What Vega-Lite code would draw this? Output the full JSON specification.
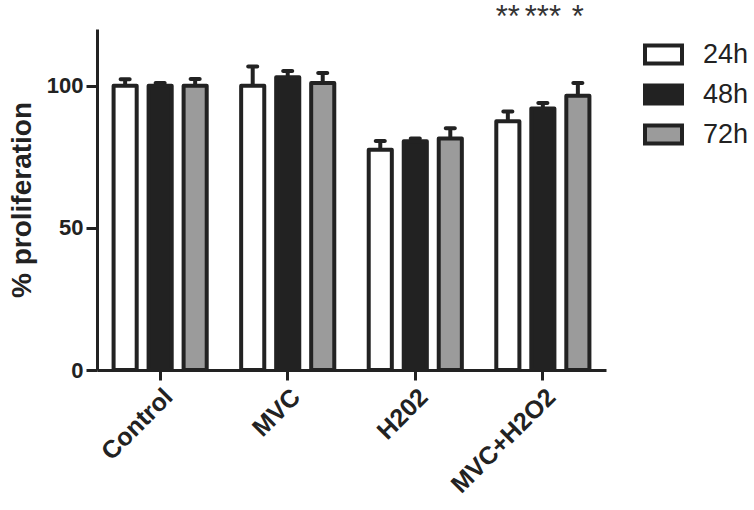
{
  "$schema": "https://vega.github.io/schema/vega-lite/v6.json",
  "autosize": "none",
  "width": 509,
  "height": 341,
  "padding": {"left": 97, "top": 29, "right": 148, "bottom": 140},
  "background": "white",
  "config": {
    "view": {"stroke": null},
    "font": "Liberation Sans",
    "axis": {
      "domainColor": "#222222",
      "domainWidth": 3,
      "tickColor": "#222222",
      "tickWidth": 3,
      "grid": false,
      "labelFont": "Liberation Sans",
      "labelFontWeight": "bold",
      "labelColor": "#222222",
      "titleFont": "Liberation Sans",
      "titleColor": "#222222"
    }
  },
  "datasets": {
    "bars": [
      {"group": "Control", "time": "24h", "value": 100, "upper": 102.3},
      {"group": "Control", "time": "48h", "value": 100, "upper": 101},
      {"group": "Control", "time": "72h", "value": 100, "upper": 102.4},
      {"group": "MVC", "time": "24h", "value": 100, "upper": 106.8},
      {"group": "MVC", "time": "48h", "value": 103, "upper": 105.2},
      {"group": "MVC", "time": "72h", "value": 101, "upper": 104.5},
      {"group": "H202", "time": "24h", "value": 77.5, "upper": 80.6},
      {"group": "H202", "time": "48h", "value": 80.5, "upper": 81.5},
      {"group": "H202", "time": "72h", "value": 81.5, "upper": 85.1},
      {"group": "MVC+H2O2", "time": "24h", "value": 87.5, "upper": 91},
      {"group": "MVC+H2O2", "time": "48h", "value": 92, "upper": 94},
      {"group": "MVC+H2O2", "time": "72h", "value": 96.5, "upper": 101}
    ],
    "stars": [
      {"group": "MVC+H2O2", "time": "24h", "y": 120.6, "label": "**"},
      {"group": "MVC+H2O2", "time": "48h", "y": 120.6, "label": "***"},
      {"group": "MVC+H2O2", "time": "72h", "y": 120.6, "label": "*"}
    ]
  },
  "encoding": {
    "x": {
      "field": "group",
      "type": "nominal",
      "sort": ["Control", "MVC", "H202", "MVC+H2O2"],
      "scale": {"paddingInner": 0.27, "paddingOuter": 0.13},
      "axis": {
        "title": null,
        "labelAngle": -45,
        "labelFontSize": 25,
        "tickSize": 10,
        "labelPadding": 4
      }
    },
    "xOffset": {
      "field": "time",
      "type": "nominal",
      "sort": ["24h", "48h", "72h"],
      "scale": {"paddingInner": 0.34, "paddingOuter": 0}
    }
  },
  "layer": [
    {
      "data": {"name": "bars"},
      "mark": {"type": "rule", "strokeWidth": 4, "color": "#222222"},
      "encoding": {
        "y": {"field": "value", "type": "quantitative"},
        "y2": {"field": "upper"}
      }
    },
    {
      "data": {"name": "bars"},
      "mark": {"type": "tick", "thickness": 4, "size": 13, "color": "#222222", "opacity": 1, "cornerRadius": 2},
      "encoding": {
        "y": {"field": "upper", "type": "quantitative"}
      }
    },
    {
      "data": {"name": "bars"},
      "mark": {"type": "bar", "stroke": "#222222", "strokeWidth": 4, "strokeJoin": "round"},
      "encoding": {
        "y": {
          "field": "value",
          "type": "quantitative",
          "scale": {"domain": [0, 120]},
          "axis": {
            "values": [0, 50, 100],
            "title": "% proliferation",
            "titleFontSize": 28,
            "titleFontWeight": "bold",
            "titlePadding": 10,
            "labelFontSize": 22,
            "tickSize": 11,
            "labelPadding": 3
          }
        },
        "fill": {
          "field": "time",
          "type": "nominal",
          "sort": ["24h", "48h", "72h"],
          "scale": {"domain": ["24h", "48h", "72h"], "range": ["#ffffff", "#222222", "#9b9b9b"]},
          "legend": {
            "title": null,
            "orient": "none",
            "legendX": 546,
            "legendY": 5,
            "padding": 0,
            "symbolType": "M-1,-0.4865H1V0.4865H-1Z",
            "symbolSize": 1369,
            "symbolStrokeColor": "#222222",
            "symbolStrokeWidth": 4,
            "symbolOpacity": 1,
            "labelFontSize": 27,
            "labelFont": "Liberation Sans",
            "labelColor": "#222222",
            "labelOffset": 19,
            "rowPadding": 2
          }
        }
      }
    },
    {
      "data": {"name": "stars"},
      "mark": {"type": "text", "fontSize": 31, "color": "#333333", "align": "center", "baseline": "alphabetic"},
      "encoding": {
        "y": {"field": "y", "type": "quantitative"},
        "text": {"field": "label"}
      }
    }
  ]
}
